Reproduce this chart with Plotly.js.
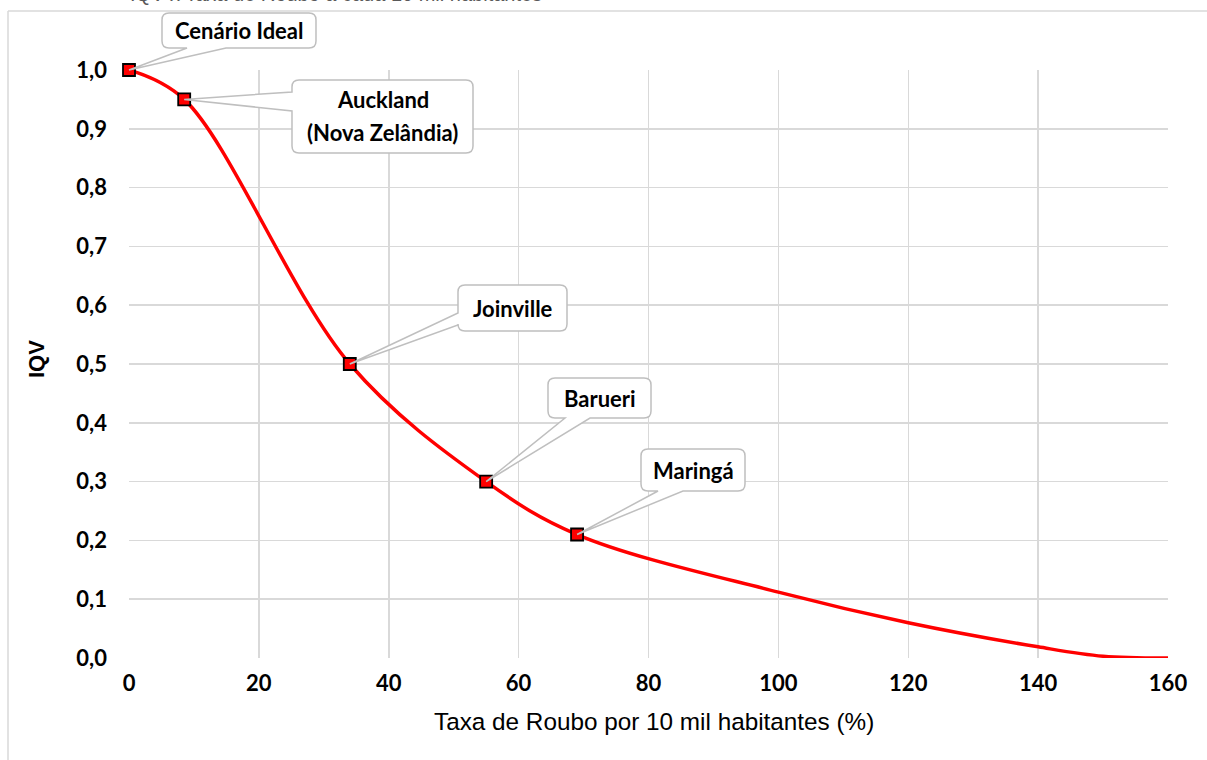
<!DOCTYPE html>
<html>
<head>
<meta charset="utf-8">
<script src="https://cdn.plot.ly/plotly-3.0.1.min.js"></script>
<style>
  html, body { margin: 0; padding: 0; background: #fff; }
  #chart { width: 1207px; height: 760px; }
</style>
</head>
<body>
<div id="chart"></div>
<script>
// ---- Data ----
const cityNames   = ["Cenário Ideal", "Auckland<br>(Nova Zelândia)", "Joinville", "Barueri", "Maringá"];
const cityRate    = [0, 8.5, 34, 55, 69];            // Taxa de Roubo por 10 mil habitantes
const cityIQV     = [1.0, 0.95, 0.5, 0.3, 0.21];     // IQV
const curveRate   = [0, 8.5, 34, 55, 69, 100, 120, 140, 150, 160];
const curveIQV    = [1.0, 0.95, 0.5, 0.3, 0.21, 0.112, 0.06, 0.019, 0.003, 0.0];
const xTicks      = [0, 20, 40, 60, 80, 100, 120, 140, 160];
const yTicks      = [0, 0.1, 0.2, 0.3, 0.4, 0.5, 0.6, 0.7, 0.8, 0.9, 1.0];
const xTitle      = "Taxa de Roubo por 10 mil habitantes (%)";
const yTitle      = "IQV";
const topTitle    = "IQV x Taxa de Roubo a cada 10 mil habitantes";

// ---- Geometry (pixels) ----
const W = 1207, H = 760;
const L = 129, R = 1168, T = 70, B = 658;
const xMin = 0, xMax = 160, yMin = 0, yMax = 1;
const PX = x => L + (x - xMin) / (xMax - xMin) * (R - L);
const PY = y => B - (y - yMin) / (yMax - yMin) * (B - T);
const PXp = px => (px - L) / (R - L);
const PYp = py => (B - py) / (B - T);

// callout boxes in pixel space [left, top, right, bottom], wedge base on one side
const callouts = [
  {box: [162, 13, 316, 48],  side: "bottom", w: [187, 226]},
  {box: [292, 80, 473, 153], side: "left",   w: [92, 111]},
  {box: [458, 285, 567, 331], side: "left",  w: [313, 325]},
  {box: [548, 378, 651, 418], side: "bottom", w: [565, 590]},
  {box: [641, 449, 745, 491], side: "bottom", w: [658, 683]}
];

function calloutPath(c, tipPx, tipPy) {
  const [l, t, r, b] = c.box;
  const rr = 7;
  const P = (px, py) => PXp(px).toFixed(5) + "," + PYp(py).toFixed(5);
  let d = "M" + P(l + rr, t) + " L" + P(r - rr, t) + " Q" + P(r, t) + " " + P(r, t + rr) +
          " L" + P(r, b - rr) + " Q" + P(r, b) + " " + P(r - rr, b);
  const tip = P(tipPx, tipPy);
  if (c.side === "bottom") {
    d += " L" + P(c.w[1], b) + " L" + tip + " L" + P(c.w[0], b);
  }
  d += " L" + P(l + rr, b) + " Q" + P(l, b) + " " + P(l, b - rr);
  if (c.side === "left") {
    d += " L" + P(l, c.w[1]) + " L" + tip + " L" + P(l, c.w[0]);
  }
  d += " L" + P(l, t + rr) + " Q" + P(l, t) + " " + P(l + rr, t) + " Z";
  return d;
}

const shapes = [];
// outer chart frame (left and top edges visible)
shapes.push({type: "line", xref: "paper", yref: "paper", x0: PXp(8), x1: PXp(8), y0: PYp(11), y1: PYp(H + 5),
             line: {color: "#d9d9d9", width: 1.5}});
shapes.push({type: "line", xref: "paper", yref: "paper", x0: PXp(8), x1: PXp(W + 5), y0: PYp(11), y1: PYp(11),
             line: {color: "#d9d9d9", width: 1.5}});

const annotations = [];
const lineGap = 33;
callouts.forEach((c, i) => {
  shapes.push({type: "path", xref: "paper", yref: "paper", layer: "above",
               path: calloutPath(c, PX(cityRate[i]), PY(cityIQV[i])),
               fillcolor: "#ffffff", line: {color: "#bfbfbf", width: 1.5}});
  const [l, t, r, b] = c.box;
  const lines = cityNames[i].split("<br>");
  const cy = (t + b) / 2;
  lines.forEach((ln, k) => {
    const yy = cy + (k - (lines.length - 1) / 2) * lineGap;
    annotations.push({xref: "paper", yref: "paper", x: PXp((l + r) / 2), y: PYp(yy),
                      text: "<b>" + ln + "</b>", showarrow: false,
                      xanchor: "center", yanchor: "middle",
                      font: {family: "Lato, 'Noto Sans', sans-serif", size: 22, color: "#000"}});
  });
});
// clipped chart title at the very top
annotations.push({xref: "paper", yref: "paper", x: PXp(336), y: PYp(7), xanchor: "center", yanchor: "bottom",
                  text: topTitle, showarrow: false,
                  font: {family: "'Liberation Sans', Arial, sans-serif", size: 20, color: "#595959"}});
// y-axis title
annotations.push({xref: "paper", yref: "paper", x: PXp(36), y: PYp(359), xanchor: "center", yanchor: "middle",
                  text: "<b>" + yTitle + "</b>", textangle: -90, showarrow: false,
                  font: {family: "'Liberation Sans', Arial, sans-serif", size: 22, color: "#000"}});
// x-axis title
annotations.push({xref: "paper", yref: "paper", x: PXp(654), y: PYp(721), xanchor: "center", yanchor: "middle",
                  text: xTitle, showarrow: false,
                  font: {family: "'Liberation Sans', Arial, sans-serif", size: 24.3, color: "#000"}});

const traces = [
  {x: curveRate, y: curveIQV, type: "scatter", mode: "lines",
   line: {color: "#ff0000", width: 3.5, shape: "spline", smoothing: 1},
   cliponaxis: false, hoverinfo: "skip", showlegend: false},
  {x: cityRate, y: cityIQV, type: "scatter", mode: "markers",
   marker: {symbol: "square", size: 12, color: "#ff0000", line: {color: "#000", width: 1.8}},
   cliponaxis: false, showlegend: false}
];

const layout = {
  width: W, height: H,
  margin: {l: L, r: W - R, t: T, b: H - B, pad: 0},
  paper_bgcolor: "#fff", plot_bgcolor: "#fff",
  separators: ",.",
  showlegend: false,
  xaxis: {
    range: [xMin, xMax], tickvals: xTicks, ticktext: xTicks.map(String),
    showgrid: true, gridcolor: "#d9d9d9", gridwidth: 1.5, zeroline: false,
    showline: false, ticks: "", ticklabelstandoff: 10,
    tickfont: {family: "Lato, 'Noto Sans', sans-serif", size: 22, color: "#000", weight: "bold"}
  },
  yaxis: {
    range: [yMin, yMax], tickvals: yTicks, tickformat: ".1f",
    showgrid: true, gridcolor: "#d9d9d9", gridwidth: 1.5, zeroline: false,
    showline: false, ticks: "", ticklabelstandoff: 21,
    tickfont: {family: "Lato, 'Noto Sans', sans-serif", size: 22, color: "#000", weight: "bold"}
  },
  shapes: shapes,
  annotations: annotations
};

Plotly.newPlot("chart", traces, layout, {displayModeBar: false, staticPlot: true});
</script>
</body>
</html>
